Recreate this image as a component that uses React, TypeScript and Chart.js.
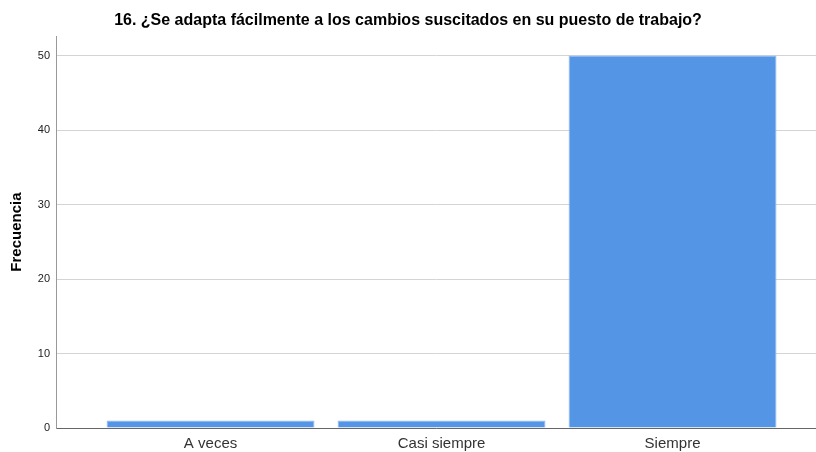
import React, { useEffect, useRef } from "react";
import { Chart, registerables } from "chart.js";

Chart.register(...registerables);

const categories = ["A veces", "Casi siempre", "Siempre"];
const frequencies = [1, 1, 50];
const yTicks = [0, 10, 20, 30, 40, 50];
const titleText = "16. ¿Se adapta fácilmente a los cambios suscitados en su puesto de trabajo?";
const yAxisTitle = "Frecuencia";

export default function App() {
  const ref = useRef<HTMLCanvasElement | null>(null);
  useEffect(() => {
    if (!ref.current) return;
    const chart = new Chart(ref.current, {
      type: "bar",
      data: {
        datasets: [
          {
            data: frequencies.map((v, i) => ({ x: i, y: v })),
            backgroundColor: "#5595e5",
            borderColor: "#8fb8ee",
            borderWidth: 1,
            borderSkipped: "bottom",
            barPercentage: 0.9,
            categoryPercentage: 1,
          },
        ],
      },
      options: {
        animation: false,
        responsive: false,
        maintainAspectRatio: false,
        layout: { padding: { left: 0, right: 0, top: 0, bottom: 0 } },
        plugins: {
          legend: { display: false },
          tooltip: { enabled: false },
          title: {
            display: true,
            text: titleText,
            color: "#000",
            font: { family: "Liberation Sans, Arial, sans-serif", size: 16, weight: "bold" },
            padding: { top: 11, bottom: 6 },
          },
        },
        scales: {
          x: {
            type: "linear",
            min: -0.669,
            max: 2.621,
            offset: false,
            afterBuildTicks: (axis: any) => {
              axis.ticks = categories.map((_, i) => ({ value: i }));
            },
            afterFit: (axis: any) => {
              axis.height = 24;
            },
            ticks: {
              callback: (v: any) => categories[Number(v)] ?? "",
              color: "#333",
              font: { family: "Liberation Sans, Arial, sans-serif", size: 15 },
              padding: 7,
              maxRotation: 0,
              autoSkip: false,
            },
            grid: { display: false, drawTicks: false },
            border: { display: true, color: "#666", width: 1 },
          },
          y: {
            min: 0,
            max: 52.6,
            afterBuildTicks: (axis: any) => {
              axis.ticks = yTicks.map((v) => ({ value: v }));
            },
            afterFit: (axis: any) => {
              axis.width = 56;
            },
            ticks: {
              color: "#222",
              font: { family: "Liberation Sans, Arial, sans-serif", size: 11 },
              padding: 6,
            },
            grid: { color: "#d4d4d4", drawTicks: false, lineWidth: 1 },
            border: { display: true, color: "#999", width: 1 },
            title: {
              display: true,
              text: yAxisTitle,
              color: "#000",
              font: { family: "Liberation Sans, Arial, sans-serif", size: 15, weight: "bold" },
              padding: { top: 8, bottom: 0 },
            },
          },
        },
      } as any,
    });
    return () => chart.destroy();
  }, []);
  return (
    <div style={{ position: "fixed", left: 0, top: 0, width: 816, height: 452, background: "#fff" }}>
      <canvas ref={ref} width={816} height={452} style={{ width: 816, height: 452, display: "block" }} />
    </div>
  );
}
